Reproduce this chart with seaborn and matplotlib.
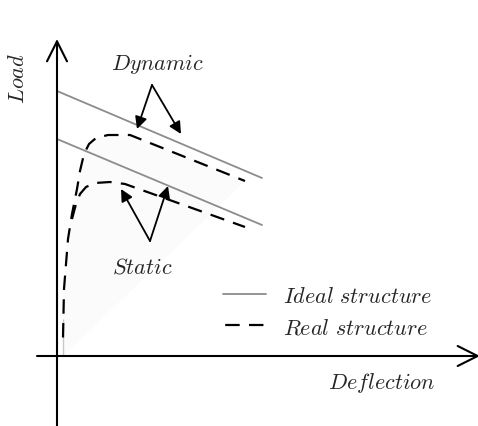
import matplotlib
matplotlib.use("Agg")
import matplotlib.pyplot as plt
from matplotlib.lines import Line2D
import seaborn as sns
import pandas as pd

# ==============================
# Data (schematic, origin at the axes crossing)
# ==============================
ideal_x = [0, 205]
ideal_dynamic_y = [265, 178]
ideal_static_y = [217, 131]

real_dynamic_x = [6, 6, 7, 9, 11, 15, 20, 23, 27, 32, 39, 51, 73, 188]
real_dynamic_y = [0, 37, 67, 92, 117, 142, 167, 185, 202, 212, 218, 221, 221, 175]

real_static_x = [15, 19, 23, 29, 38, 53, 68, 188]
real_static_y = [137, 152, 162, 169, 173, 174, 172, 129]

# ==============================
# Figure
# ==============================
sns.set_style("white")
plt.rcParams["mathtext.fontset"] = "cm"

fig = plt.figure(figsize=(4.78, 4.27), dpi=100)
ax = fig.add_axes([0, 0, 1, 1])
ax.set_xlim(-57, 421)
ax.set_ylim(-70, 357)
ax.axis("off")

# faint shading under the real curve
shade_x = real_dynamic_x + [real_dynamic_x[0]]
shade_y = real_dynamic_y + [real_dynamic_y[0]]
ax.fill(shade_x, shade_y, color="#fbfbfb", zorder=0, lw=0)

dash = (0, (6.5, 4.2))
gray = "#8c8c8c"

df_id = pd.DataFrame({"x": ideal_x, "y": ideal_dynamic_y})
sns.lineplot(data=df_id, x="x", y="y", ax=ax, color=gray, lw=1.3, sort=False)
df_is = pd.DataFrame({"x": ideal_x, "y": ideal_static_y})
sns.lineplot(data=df_is, x="x", y="y", ax=ax, color=gray, lw=1.3, sort=False)

df_rd = pd.DataFrame({"x": real_dynamic_x, "y": real_dynamic_y})
sns.lineplot(data=df_rd, x="x", y="y", ax=ax, color="black", lw=1.6,
             linestyle=dash, sort=False)
df_rs = pd.DataFrame({"x": real_static_x, "y": real_static_y})
sns.lineplot(data=df_rs, x="x", y="y", ax=ax, color="black", lw=1.6,
             linestyle=dash, sort=False)

# axes with arrow heads
axis_style = dict(arrowstyle="->", lw=1.5, color="black", mutation_scale=36,
                  shrinkA=0, shrinkB=0)
ax.annotate("", xy=(0, 317), xytext=(0, -70), arrowprops=axis_style,
            annotation_clip=False)
ax.annotate("", xy=(423, 0), xytext=(-20, 0), arrowprops=axis_style,
            annotation_clip=False)

# annotation arrows
arr = dict(arrowstyle="-|>", lw=1.3, color="black", mutation_scale=18,
           shrinkA=0, shrinkB=0)
ax.annotate("", xy=(80, 227), xytext=(95, 271), arrowprops=arr)
ax.annotate("", xy=(124, 222), xytext=(95, 271), arrowprops=arr)
ax.annotate("", xy=(64, 167), xytext=(93, 115), arrowprops=arr)
ax.annotate("", xy=(111, 170), xytext=(93, 115), arrowprops=arr)

fs = 16
ax.text(101, 293, r"$Dynamic$", fontsize=fs, ha="center", va="center")
ax.text(85, 90, r"$Static$", fontsize=fs, ha="center", va="center")
ax.text(-39, 279, r"$Load$", fontsize=fs, ha="center", va="center", rotation=90)
ax.text(325, -26, r"$Deflection$", fontsize=fs, ha="center", va="center")

# legend
handles = [
    Line2D([], [], color=gray, lw=1.3),
    Line2D([], [], color="black", lw=1.6, linestyle=(-1, (6.5, 4.2))),
]
ax.legend(handles,
          [r"$Ideal\ structure$", r"$Real\ structure$"],
          loc="center left", bbox_to_anchor=(0.425, 0.268), frameon=False,
          fontsize=fs, handlelength=1.95, handletextpad=0.75, labelspacing=0.5)

fig.savefig("out.png", dpi=100)
